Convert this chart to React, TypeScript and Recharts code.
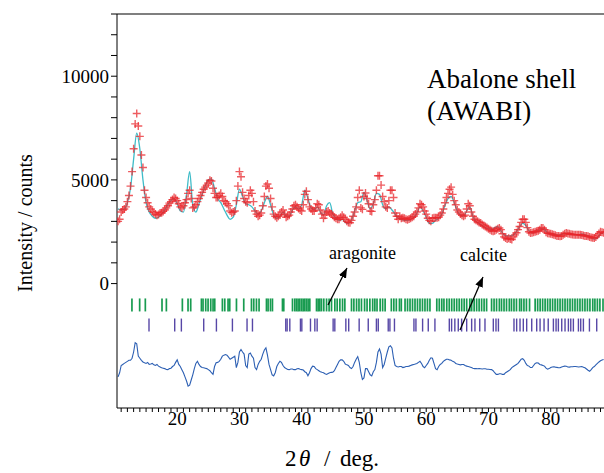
import { ComposedChart, Line, Scatter, XAxis, YAxis, ReferenceLine } from 'recharts'

// 2θ scan positions (deg.), 0.25° step
const twoTheta = [
  10.5, 10.75, 11, 11.25, 11.5, 11.75, 12, 12.25, 12.5, 12.75, 13, 13.25, 13.5, 13.75, 14, 14.25, 14.5, 14.75, 15, 15.25,
  15.5, 15.75, 16, 16.25, 16.5, 16.75, 17, 17.25, 17.5, 17.75, 18, 18.25, 18.5, 18.75, 19, 19.25, 19.5, 19.75, 20, 20.25,
  20.5, 20.75, 21, 21.25, 21.5, 21.75, 22, 22.25, 22.5, 22.75, 23, 23.25, 23.5, 23.75, 24, 24.25, 24.5, 24.75, 25, 25.25,
  25.5, 25.75, 26, 26.25, 26.5, 26.75, 27, 27.25, 27.5, 27.75, 28, 28.25, 28.5, 28.75, 29, 29.25, 29.5, 29.75, 30, 30.25,
  30.5, 30.75, 31, 31.25, 31.5, 31.75, 32, 32.25, 32.5, 32.75, 33, 33.25, 33.5, 33.75, 34, 34.25, 34.5, 34.75, 35, 35.25,
  35.5, 35.75, 36, 36.25, 36.5, 36.75, 37, 37.25, 37.5, 37.75, 38, 38.25, 38.5, 38.75, 39, 39.25, 39.5, 39.75, 40, 40.25,
  40.5, 40.75, 41, 41.25, 41.5, 41.75, 42, 42.25, 42.5, 42.75, 43, 43.25, 43.5, 43.75, 44, 44.25, 44.5, 44.75, 45, 45.25,
  45.5, 45.75, 46, 46.25, 46.5, 46.75, 47, 47.25, 47.5, 47.75, 48, 48.25, 48.5, 48.75, 49, 49.25, 49.5, 49.75, 50, 50.25,
  50.5, 50.75, 51, 51.25, 51.5, 51.75, 52, 52.25, 52.5, 52.75, 53, 53.25, 53.5, 53.75, 54, 54.25, 54.5, 54.75, 55, 55.25,
  55.5, 55.75, 56, 56.25, 56.5, 56.75, 57, 57.25, 57.5, 57.75, 58, 58.25, 58.5, 58.75, 59, 59.25, 59.5, 59.75, 60, 60.25,
  60.5, 60.75, 61, 61.25, 61.5, 61.75, 62, 62.25, 62.5, 62.75, 63, 63.25, 63.5, 63.75, 64, 64.25, 64.5, 64.75, 65, 65.25,
  65.5, 65.75, 66, 66.25, 66.5, 66.75, 67, 67.25, 67.5, 67.75, 68, 68.25, 68.5, 68.75, 69, 69.25, 69.5, 69.75, 70, 70.25,
  70.5, 70.75, 71, 71.25, 71.5, 71.75, 72, 72.25, 72.5, 72.75, 73, 73.25, 73.5, 73.75, 74, 74.25, 74.5, 74.75, 75, 75.25,
  75.5, 75.75, 76, 76.25, 76.5, 76.75, 77, 77.25, 77.5, 77.75, 78, 78.25, 78.5, 78.75, 79, 79.25, 79.5, 79.75, 80, 80.25,
  80.5, 80.75, 81, 81.25, 81.5, 81.75, 82, 82.25, 82.5, 82.75, 83, 83.25, 83.5, 83.75, 84, 84.25, 84.5, 84.75, 85, 85.25,
  85.5, 85.75, 86, 86.25, 86.5, 86.75, 87, 87.25, 87.5, 87.75, 88, 88.25, 88.5
]

// observed intensity (red crosses)
const observed = [
  3000, 3100, 3450, 3550, 3600, 3700, 3950, 4250, 4700, 5400, 6500, 7700, 8200, 7600, 7100, 6200, 5600, 4500, 4150, 3900,
  3700, 3600, 3480, 3420, 3350, 3300, 3330, 3400, 3420, 3480, 3550, 3650, 3750, 3880, 3950, 4050, 4150, 4100, 4000, 3850,
  3700, 3650, 3750, 3900, 4050, 4350, 4500, 4100, 3650, 3700, 3800, 3950, 4100, 4250, 4400, 4550, 4650, 4750, 4850, 4980,
  4950, 4600, 4350, 4150, 4150, 4250, 4350, 4200, 4000, 3950, 3850, 3750, 3500, 3420, 3450, 3500, 4000, 4700, 5400, 5150,
  4400, 4100, 3950, 3900, 4250, 4500, 4350, 3950, 3500, 3350, 3250, 3300, 3400, 3750, 4200, 4700, 4800, 4600, 4100, 3700,
  3350, 3250, 3170, 3250, 3320, 3450, 3550, 3350, 3200, 3250, 3300, 3450, 3600, 3750, 3800, 3700, 3620, 3550, 3500, 3800,
  4300, 4450, 4050, 3700, 3600, 3500, 3500, 3650, 3850, 3800, 3550, 3350, 3150, 3300, 3450, 3500, 3400, 3350, 3300, 3200,
  3150, 3100, 3100, 3200, 3300, 3200, 3100, 3000, 2950, 2930, 3050, 3250, 3450, 3700, 4150, 4500, 3650, 3580, 4200, 4370,
  4100, 3850, 3500, 3480, 3800, 4050, 4500, 5200, 5200, 4750, 4200, 3950, 3700, 3650, 4000, 4500, 4500, 4150, 3400, 3250,
  3100, 3250, 3150, 3170, 3150, 3100, 3080, 3120, 3150, 3200, 3250, 3350, 3450, 3650, 3850, 3800, 3700, 3500, 3350, 3150,
  3050, 3000, 3150, 3170, 3180, 3170, 3200, 3300, 3400, 3600, 3900, 4150, 4350, 4550, 4650, 4300, 4000, 3800, 3550, 3450,
  3350, 3300, 3250, 3300, 3600, 3850, 3750, 3450, 3250, 3100, 3050, 3000, 2950, 2920, 2850, 2800, 2750, 2700, 2650, 2600,
  2550, 2520, 2550, 2600, 2650, 2680, 2600, 2400, 2250, 2200, 2150, 2180, 2150, 2120, 2250, 2350, 2450, 2600, 2750, 2950,
  3100, 3100, 2950, 2700, 2500, 2440, 2450, 2480, 2500, 2520, 2550, 2600, 2680, 2680, 2600, 2480, 2430, 2420, 2400, 2380,
  2350, 2330, 2300, 2290, 2280, 2300, 2350, 2400, 2440, 2420, 2400, 2380, 2370, 2360, 2350, 2360, 2360, 2350, 2340, 2320,
  2300, 2290, 2280, 2250, 2220, 2210, 2200, 2250, 2330, 2420, 2500, 2480, 2450
]

// calculated profile (cyan line), every second scan point (0.5° step)
const calculated = [
  3600, 3550, 3600, 3900, 4600, 6000, 7250, 6500, 5000, 3900,
  3450, 3250, 3150, 3200, 3350, 3550, 3800, 4000, 4100, 3850,
  3500, 3450, 4300, 5400, 3800, 3450, 3850, 4300, 4700, 5000,
  5050, 4600, 4100, 3900, 3600, 3300, 3100, 3200, 3800, 4550,
  4200, 3850, 3800, 3700, 3500, 3350, 3500, 3900, 4200, 3800,
  3300, 3150, 3250, 3450, 3250, 3250, 3550, 3700, 3600, 3800,
  4500, 4100, 3650, 3550, 3700, 3450, 3300, 3750, 3900, 3350,
  3150, 3050, 3100, 2950, 2900, 3050, 3500, 3900, 3950, 4400,
  4000, 3600, 3850, 4350, 4300, 3800, 3600, 3700, 3550, 3350,
  3150, 3100, 3050, 3050, 3100, 3200, 3400, 3700, 3500, 3200,
  2900, 2900, 3050, 3150, 3350, 3750, 4100, 4200, 3900, 3500,
  3300, 3250, 3500, 3700, 3250, 3000, 2900, 2800, 2700, 2650,
  2600, 2700, 2750, 2550, 2350, 2300, 2300, 2350, 2500, 2750,
  2900, 2800, 2550, 2450, 2500, 2550, 2650, 2600, 2450, 2400,
  2350, 2330, 2350, 2400, 2420, 2400, 2380, 2360, 2350, 2400,
  2350, 2300, 2220, 2150, 2200, 2400, 2450
]

// obs - calc, plotted with its offset (blue line)
const difference = [
  -4500, -4300, -3950, -3900, -3850, -3800, -3750, -3700, -3700, -3600, -3300, -2850, -2900, -3500, -3600, -3700, -3780, -3820, -3850, -3800,
  -3900, -3880, -3850, -3920, -3950, -3900, -3980, -4020, -4060, -4080, -4100, -4140, -4150, -4100, -4080, -4000, -3950, -3800, -3680, -3900,
  -4000, -4150, -4300, -4500, -4700, -4950, -4900, -4650, -4400, -4100, -3850, -3750, -3900, -4000, -4050, -4060, -4080, -4100, -4150, -4200,
  -4300, -4380, -4000, -3820, -3800, -3750, -3650, -3500, -3450, -3420, -3450, -3550, -3650, -3600, -3550, -3500, -4050, -3800, -3300, -3180,
  -3300, -3400, -3950, -4050, -3400, -3350, -3500, -3600, -4050, -4150, -3900, -3750, -3650, -3400, -3200, -3100, -3450, -3900, -4150, -4400,
  -4450, -4300, -4000, -3850, -3750, -3800, -3950, -4050, -4100, -4140, -4150, -4120, -4120, -4150, -4150, -4110, -4100, -4130, -4150, -4170,
  -4250, -4300, -4450, -4300, -4100, -3980, -4000, -4100, -4150, -4200, -4250, -4280, -4300, -4350, -4380, -4340, -4300, -4280, -4270, -4200,
  -4050, -3900, -3750, -3680, -3680, -3750, -3880, -3920, -3950, -4050, -4100, -4000, -3800, -3650, -3520, -3800, -4300, -4620, -4550, -4100,
  -4100, -4250, -4400, -4450, -4250, -4150, -3800, -3300, -3150, -3400, -4050, -3900, -3600, -3300, -3050, -3000, -3100, -3600, -3950, -4000,
  -4020, -4000, -4000, -4050, -4030, -4000, -4000, -3980, -3950, -3920, -3900, -3880, -3850, -3800, -3750, -3850, -4000, -4060, -3950, -3850,
  -3700, -3580, -3600, -3850, -4100, -4150, -4000, -3900, -3850, -3750, -3700, -3650, -3650, -3680, -3700, -3750, -3780, -3850, -3880, -3900,
  -3920, -3900, -3900, -3950, -3980, -4000, -4020, -4050, -4080, -4100, -4100, -4110, -4100, -4110, -4120, -4110, -4110, -4130, -4130, -4140,
  -4150, -4200, -4300, -4380, -4380, -4350, -4350, -4380, -4380, -4300, -4250, -4200, -4150, -4050, -4000, -3950, -3900, -3850, -3750, -3650,
  -3620, -3700, -3850, -3950, -3980, -4050, -4050, -3950, -3850, -3820, -3830, -3900, -3920, -3950, -3980, -4080, -4130, -4100, -4050, -4020,
  -4010, -4030, -4040, -4060, -4060, -4020, -4000, -3980, -3990, -4020, -4030, -4010, -4010, -4000, -4000, -4010, -4020, -4010, -4000, -4030,
  -4060, -4120, -4180, -4230, -4150, -4050, -4000, -3920, -3850, -3780, -3720, -3680, -3660
]

// reflection positions (deg.)
const aragonitePeaks = [
  12.73, 13.97, 14.88, 17.56, 18.26, 20.83, 21.74, 22.17, 23.89, 24.15,
  24.58, 24.96, 25.39, 25.76, 26.03, 27.26, 27.64, 28.17, 28.44, 29.52,
  30.69, 31.93, 32.3, 32.73, 33.15, 34.34, 34.6, 34.98, 35.3, 36.91,
  37.12, 38.52, 38.89, 39.16, 39.42, 39.69, 39.97, 40.23, 40.5, 40.77,
  41.03, 41.3, 42.38, 42.64, 42.91, 43.18, 43.55, 43.99, 44.4, 44.79,
  45.32, 45.7, 46.13, 46.56, 46.93, 48.0, 48.38, 48.81, 49.2, 49.6,
  50.1, 50.5, 50.95, 51.4, 51.75, 52.1, 52.6, 53.0, 53.4, 54.4,
  54.8, 55.2, 55.7, 56.0, 56.6, 57.0, 57.4, 57.8, 58.2, 58.6,
  59.0, 59.4, 59.8, 60.2, 60.6, 61.7, 62.1, 62.5, 62.85, 63.3,
  63.7, 64.1, 64.5, 64.9, 65.3, 65.7, 66.1, 66.5, 67.0, 67.3,
  67.7, 68.1, 68.5, 68.9, 69.3, 69.7, 70.5, 70.9, 71.3, 71.75,
  72.1, 72.5, 72.9, 73.35, 73.7, 74.1, 74.5, 75.0, 75.3, 75.7,
  76.1, 76.6, 77.5, 77.9, 78.3, 78.7, 79.1, 79.5, 79.9, 80.3,
  80.7, 81.1, 81.5, 81.9, 82.3, 82.7, 83.1, 83.5, 83.9, 84.3,
  84.7, 85.1, 85.5, 85.9, 86.3, 86.75, 87.1, 87.5, 87.9, 88.4
]

const calcitePeaks = [
  15.47, 19.6, 20.67, 24.26, 26.3, 28.87, 31.22, 32.09, 37.44, 37.66,
  38.09, 39.8, 40.02, 41.41, 42.11, 42.48, 45.05, 45.32, 47.09, 47.55,
  49.23, 50.69, 52.0, 52.3, 53.9, 54.17, 54.9, 58.03, 58.35, 59.42,
  60.33, 61.4, 63.71, 64.08, 64.6, 65.15, 65.69, 66.5, 67.3, 67.83,
  68.6, 69.44, 70.78, 71.21, 71.6, 74.1, 74.53, 75.07, 75.6, 76.14,
  76.95, 77.75, 78.29, 78.93, 79.6, 80.43, 80.86, 81.23, 81.77, 82.3,
  82.84, 83.22, 83.64, 84.45, 84.82, 85.25, 86.22, 87.39
]

// vertical levels of the two reflection-mark rows
const ARAGONITE_ROW = -1030
const CALCITE_ROW = -2000

const xTicks = [
  11, 12, 13, 14, 15, 16, 17, 18, 19, 20, 21, 22, 23, 24, 25, 26, 27, 28, 29, 30,
  31, 32, 33, 34, 35, 36, 37, 38, 39, 40, 41, 42, 43, 44, 45, 46, 47, 48, 49, 50,
  51, 52, 53, 54, 55, 56, 57, 58, 59, 60, 61, 62, 63, 64, 65, 66, 67, 68, 69, 70,
  71, 72, 73, 74, 75, 76, 77, 78, 79, 80, 81, 82, 83, 84, 85, 86, 87, 88
]
const yTicks = [0, 1000, 2000, 3000, 4000, 5000, 6000, 7000, 8000, 9000, 10000, 11000, 12000, 13000]

// calc is only given on every second point; the line joins across the gaps
const rows = twoTheta.map((x, i) => ({
  x,
  obs: observed[i],
  diff: difference[i],
  calc: i % 2 === 0 ? calculated[i / 2] : null
}))
const aragoniteRows = aragonitePeaks.map(x => ({ x, y: ARAGONITE_ROW }))
const calciteRows = calcitePeaks.map(x => ({ x, y: CALCITE_ROW }))

const serif = "'Liberation Serif', 'Times New Roman', Times, 'DejaVu Serif', serif"

const CrossMark = (props: any) => {
  const { cx, cy } = props
  if (cx == null || cy == null) return <g />
  return (
    <path
      d={`M${cx - 4},${cy}h8M${cx},${cy - 4}v8`}
      stroke="#e8262b"
      strokeOpacity={0.75}
      strokeWidth={1.4}
      fill="none"
    />
  )
}

const tickMark = (color: string, w: number) => (props: any) => {
  const { cx, cy } = props
  if (cx == null || cy == null) return <g />
  return <line x1={cx} x2={cx} y1={cy - 6.5} y2={cy + 6.5} stroke={color} strokeWidth={w} />
}

export default function App() {
  return (
    <div style={{ position: 'absolute', left: 0, top: 0, width: 604, height: 473, overflow: 'hidden', background: '#fff', fontFamily: serif }}>
      <ComposedChart width={604} height={473} data={rows} margin={{ top: 14, right: 0, bottom: 0, left: 0 }}>
        <XAxis
          type="number"
          dataKey="x"
          domain={[10.33, 88.56]}
          allowDataOverflow
          ticks={xTicks}
          interval={0}
          tickFormatter={(v: number) => (v % 10 === 0 ? String(v) : '')}
          height={65}
          tickSize={4}
          tickMargin={0}
          stroke="#000"
          tick={{ fontSize: 19, fill: '#000', style: { fontFamily: serif } }}
        />
        <YAxis
          type="number"
          domain={[-6000, 13000]}
          allowDataOverflow
          ticks={yTicks}
          interval={0}
          tickFormatter={(v: number) => (v % 5000 === 0 ? String(v) : '')}
          width={117}
          tickSize={6}
          tickMargin={2}
          stroke="#000"
          tick={{ fontSize: 19, fill: '#000', style: { fontFamily: serif } }}
        />
        <ReferenceLine y={13000} stroke="#000" strokeWidth={1.2} />
        <Scatter data={aragoniteRows} dataKey="y" shape={tickMark('#189b50', 1.7)} isAnimationActive={false} />
        <Scatter data={calciteRows} dataKey="y" shape={tickMark('#5747a6', 1.4)} isAnimationActive={false} />
        <Line dataKey="diff" type="linear" stroke="#2c5fb3" strokeWidth={1.1} dot={false} activeDot={false} isAnimationActive={false} />
        <Line dataKey="calc" type="monotone" connectNulls stroke="#3fbcc8" strokeWidth={1.3} dot={false} activeDot={false} isAnimationActive={false} />
        <Scatter dataKey="obs" shape={CrossMark} isAnimationActive={false} />
      </ComposedChart>
      <svg width={604} height={473} style={{ position: 'absolute', left: 0, top: 0, pointerEvents: 'none', fontFamily: serif }}>
        <defs>
          <marker id="head" viewBox="0 0 10 8" refX="10" refY="4" markerWidth="10" markerHeight="8" markerUnits="userSpaceOnUse" orient="auto">
            <path d="M0,0L10,4L0,8z" fill="#000" />
          </marker>
        </defs>
        <g fill="#000">
          <text x={427} y={88} fontSize={27}>Abalone shell</text>
          <text x={427} y={120} fontSize={27}>(AWABI)</text>
          <text x={329} y={259} fontSize={18}>aragonite</text>
          <text x={460} y={261} fontSize={18}>calcite</text>
          <text transform="translate(32,223) rotate(-90)" textAnchor="middle" fontSize={20}>Intensity / counts</text>
          <text y={466} fontSize={23}>
            <tspan x={285}>2</tspan>
            <tspan x={299} fontStyle="italic">θ</tspan>
            <tspan x={324}>/</tspan>
            <tspan x={340}>deg.</tspan>
          </text>
        </g>
        <line x1={328} y1={305} x2={347} y2={268} stroke="#000" strokeWidth={1.3} markerEnd="url(#head)" />
        <line x1={460} y1={330} x2={483} y2={277} stroke="#000" strokeWidth={1.3} markerEnd="url(#head)" />
      </svg>
    </div>
  )
}
